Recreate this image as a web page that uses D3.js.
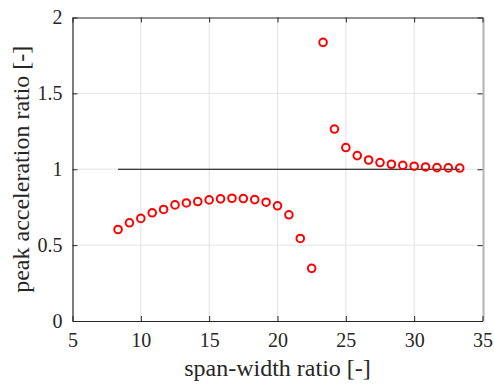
<!DOCTYPE html>
<html>
<head>
<meta charset="utf-8">
<script src="https://cdn.jsdelivr.net/npm/d3@7"></script>
<style>
  html, body { margin: 0; padding: 0; background: #fff; }
  svg { display: block; }
  text { font-family: "Liberation Serif", "Times New Roman", serif; fill: #262626; }
</style>
</head>
<body>
<svg id="chart" width="494" height="385"></svg>
<script>
// span-width ratio samples
const spanWidthRatio = d3.range(31).map(i => 25 / 3 + i * 5 / 6);
// peak acceleration ratio at each span-width ratio
const peakAccelRatio = [
  0.603, 0.647, 0.676, 0.713, 0.735, 0.765, 0.778, 0.787, 0.798, 0.805,
  0.809, 0.807, 0.800, 0.783, 0.759, 0.700, 0.544, 0.347,
  1.836, 1.265, 1.143, 1.090, 1.061, 1.044, 1.033, 1.026, 1.020, 1.015,
  1.011, 1.009, 1.008
];
// reference level
const referenceLevel = 1;
const xTicks = [5, 10, 15, 20, 25, 30, 35];
const yTicks = [0, 0.5, 1, 1.5, 2];

const serif = '"Liberation Serif", "Times New Roman", serif';
const svg = d3.select("#chart");
const plotL = 72.5, plotR = 482.5, plotT = 17.5, plotB = 321;

const x = d3.scaleLinear().domain([5, 35]).range([plotL, plotR]);
const y = d3.scaleLinear().domain([0, 2]).range([plotB, plotT]);
const fmt = d => String(d);

// grid
const grid = svg.append("g");
grid.selectAll(".gx").data(xTicks.slice(1, -1)).join("line")
  .attr("x1", d => x(d)).attr("x2", d => x(d))
  .attr("y1", plotT).attr("y2", plotB)
  .attr("stroke", "#e3e3e3").attr("stroke-width", 1);
grid.selectAll(".gy").data(yTicks.slice(1, -1)).join("line")
  .attr("y1", d => y(d)).attr("y2", d => y(d))
  .attr("x1", plotL).attr("x2", plotR)
  .attr("stroke", "#e3e3e3").attr("stroke-width", 1);

// right border
svg.append("line")
  .attr("x1", plotR + 1).attr("x2", plotR + 1)
  .attr("y1", plotT).attr("y2", plotB + 0.5)
  .attr("stroke", "#b3b3b3").attr("stroke-width", 2);

// axes
const xAxisB = d3.axisBottom(x).tickValues(xTicks).tickFormat(fmt).tickSizeInner(-5).tickSizeOuter(0).tickPadding(12);
const xAxisT = d3.axisTop(x).tickValues(xTicks).tickSizeInner(-5).tickSizeOuter(0).tickFormat("");
const yAxisL = d3.axisLeft(y).tickValues(yTicks).tickFormat(fmt).tickSizeInner(-5).tickSizeOuter(0).tickPadding(10);
const yAxisR = d3.axisRight(y).tickValues(yTicks).tickSizeInner(-5).tickSizeOuter(0).tickFormat("");

function styleAxis(g) {
  g.attr("font-family", serif).attr("font-size", 20);
  g.selectAll("path.domain").attr("stroke", "#262626").attr("stroke-width", 1.2);
  g.selectAll(".tick line").attr("stroke", "#262626").attr("stroke-width", 1);
  g.selectAll(".tick text").attr("fill", "#262626");
}

svg.append("g").attr("transform", `translate(0,${plotB})`).call(xAxisB).call(styleAxis);
svg.append("g").attr("transform", `translate(0,${plotT})`).call(xAxisT).call(styleAxis);
svg.append("g").attr("transform", `translate(${plotL},0)`).call(yAxisL).call(styleAxis);
const rAx = svg.append("g").attr("transform", `translate(${plotR},0)`).call(yAxisR).call(styleAxis);
rAx.select("path.domain").remove();

// reference line at ratio 1
svg.append("line")
  .attr("x1", x(spanWidthRatio[0])).attr("x2", x(spanWidthRatio[spanWidthRatio.length - 1]))
  .attr("y1", y(referenceLevel)).attr("y2", y(referenceLevel))
  .attr("stroke", "#000").attr("stroke-width", 1.2);

// markers
svg.append("g").selectAll("circle")
  .data(spanWidthRatio.map((v, i) => [v, peakAccelRatio[i]]))
  .join("circle")
  .attr("cx", d => x(d[0])).attr("cy", d => y(d[1]))
  .attr("r", 3.8)
  .attr("fill", "none").attr("stroke", "#ff0000").attr("stroke-width", 2);

// axis titles
svg.append("text")
  .attr("x", (plotL + plotR) / 2).attr("y", 376)
  .attr("text-anchor", "middle").attr("font-size", 24).attr("font-family", serif)
  .text("span-width ratio [-]");
svg.append("text")
  .attr("transform", `translate(29,${(plotT + plotB) / 2}) rotate(-90)`)
  .attr("text-anchor", "middle").attr("font-size", 24).attr("font-family", serif)
  .text("peak acceleration ratio [-]");
</script>
</body>
</html>
